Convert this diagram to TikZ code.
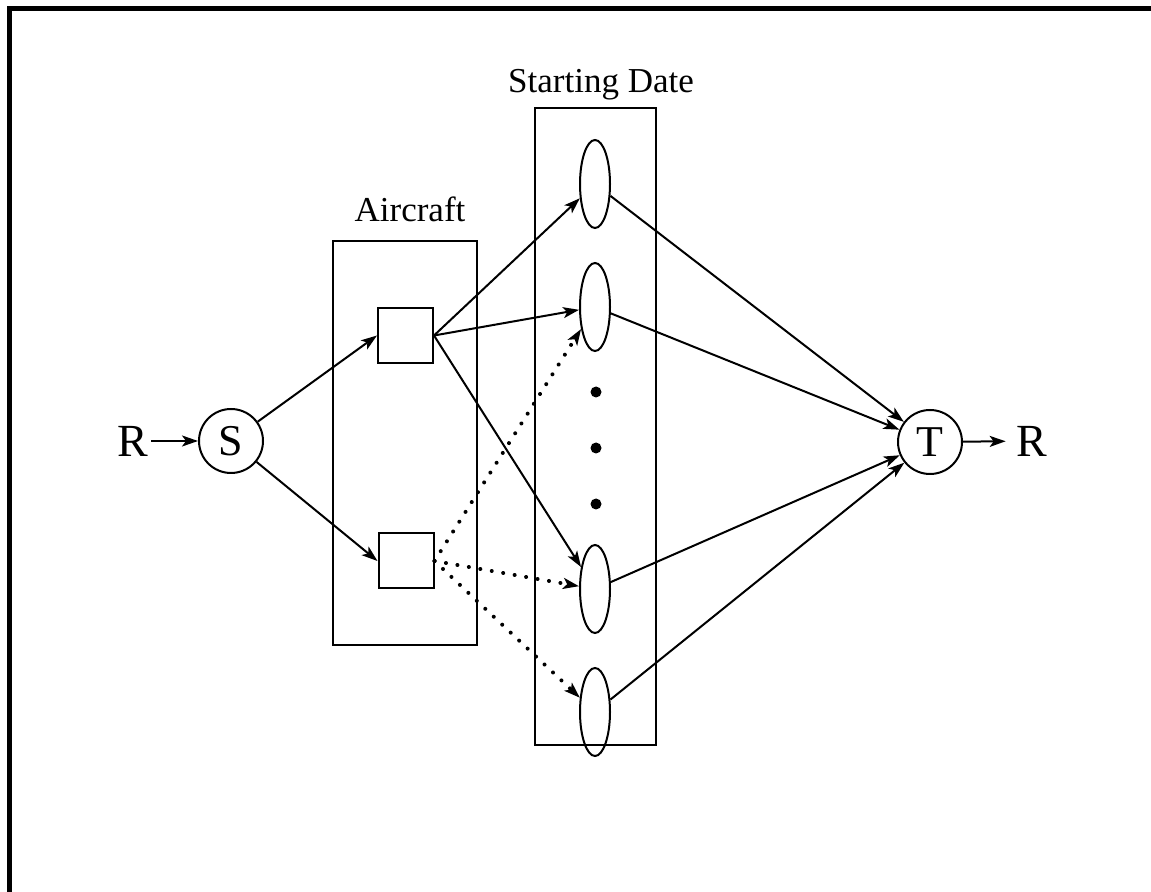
\documentclass[tikz,border=0pt]{standalone}
\usepackage{fontspec}
\setmainfont{Liberation Serif}
\usetikzlibrary{shapes.geometric,arrows.meta}
\begin{document}
\begin{tikzpicture}[x=0.5pt,y=-0.5pt,
  line width=1pt,
  arr/.style={-{Stealth[length=8pt,width=5.5pt,inset=2pt]}},
  dotline/.style={arr,dash pattern=on 0.01pt off 5.8pt,line cap=round,line width=2pt},
  circ/.style={circle,draw,minimum size=32pt,inner sep=0pt,font=\fontsize{22}{24}\selectfont},
  sq/.style={rectangle,draw,minimum size=27.5pt,inner sep=0pt},
  ell/.style={ellipse,draw,minimum width=15pt,minimum height=44pt,inner sep=0pt},
  big/.style={inner sep=1pt,font=\fontsize{23}{25}\selectfont},
  lab/.style={inner sep=0pt,anchor=base,font=\fontsize{17.5}{19}\selectfont},
  frame/.style={draw,line width=1pt},
  dotnode/.style={circle,fill,minimum size=5.5pt,inner sep=0pt}]
\useasboundingbox (0,0) rectangle (1151,892);
% outer frame (left and top)
\draw[line width=2.5pt] (9.5,892) -- (9.5,8.5) -- (1151,8.5);
% group boxes
\draw[frame] (333,241) rectangle (477,645);
\draw[frame] (535,108) rectangle (656,745);
\node[lab] (la) at (410,222) {Aircraft};
\node[lab] (ls) at (601,93) {Starting Date};
% nodes
\node[big] (r1) at (133,441) {R};
\node[circ] (s) at (231,441) {S};
\node[sq] (a1) at (405.5,335.5) {};
\node[sq] (a2) at (406,561) {};
\node[ell] (e1) at (595,184) {};
\node[ell] (e2) at (595,307) {};
\node[ell] (e3) at (595,589) {};
\node[ell] (e4) at (595,712) {};
\node[dotnode] (d1) at (596,392) {};
\node[dotnode] (d2) at (596,448) {};
\node[dotnode] (d3) at (596,504) {};
\node[circ] (t) at (930,442) {T};
\node[big] (r2) at (1032,441) {R};
% edges
\draw[arr] (r1) -- (s);
\draw[arr] (s) -- (a1.west);
\draw[arr] (s) -- (a2.west);
\draw[arr] (a1.east) -- (e1);
\draw[arr] (a1.east) -- (e2);
\draw[arr] (a1.east) -- (e3);
\draw[dotline] (a2.east) -- (e2);
\draw[dotline] (a2.east) -- (e3);
\draw[dotline] (a2.east) -- (e4);
\draw[arr] (e1) -- (t);
\draw[arr] (e2) -- (t);
\draw[arr] (e3) -- (t);
\draw[arr] (e4) -- (t);
\draw[arr,shorten >=4pt] (t) -- (r2);
\end{tikzpicture}
\end{document}
